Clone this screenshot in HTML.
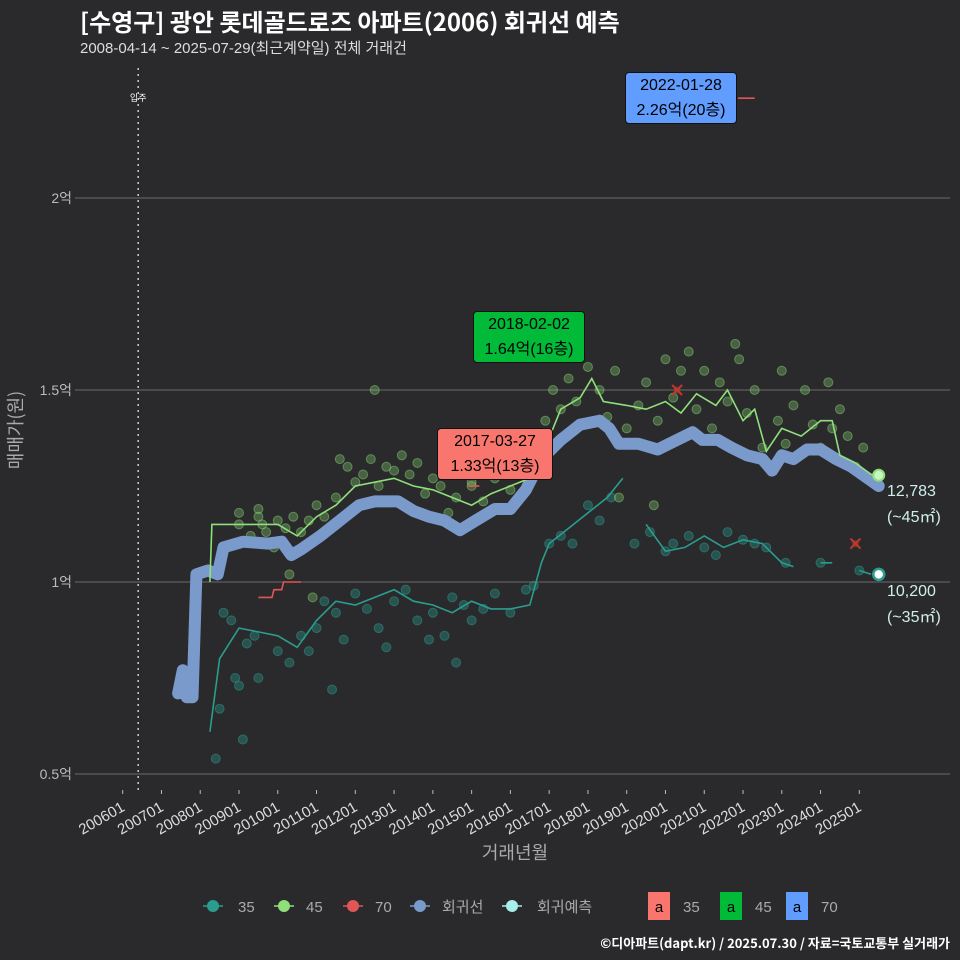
<!DOCTYPE html>
<html><head><meta charset="utf-8">
<style>
body{margin:0;background:#2a2a2c;}
#wrap{position:relative;width:960px;height:960px;background:#2a2a2c;font-family:"Liberation Sans","Noto Sans CJK KR",sans-serif;overflow:hidden}
.t{position:absolute;white-space:nowrap}
.ann{position:absolute;border-radius:4px;border:1px solid #111;color:#000;font-size:16px;line-height:25px;text-align:center;font-family:"Liberation Sans","Noto Sans CJK KR",sans-serif}
</style></head><body>
<div id="wrap">
<div class="t" style="left:80px;top:3px;font-size:24px;font-weight:bold;color:#fff;font-family:'Noto Sans CJK KR',sans-serif">[수영구] 광안 롯데골드로즈 아파트(2006) 회귀선 예측</div>
<div class="t" style="left:80px;top:37px;font-size:15px;color:#ddd;font-family:'Liberation Sans','Noto Sans CJK KR',sans-serif">2008-04-14 ~ 2025-07-29(최근계약일) 전체 거래건</div>
<svg id="svg" width="960" height="960" style="position:absolute;left:0;top:0"></svg>
<div class="ann" style="left:625px;top:72px;width:110px;background:#619cff">2022-01-28<br>2.26억(20층)</div>
<div class="ann" style="left:473px;top:311px;width:110px;background:#00ba38">2018-02-02<br>1.64억(16층)</div>
<div class="ann" style="left:437px;top:428px;width:114px;background:#f8766d">2017-03-27<br>1.33억(13층)</div>
<div class="t" style="left:887px;top:479px;font-size:16px;line-height:26px;color:#cfeee8">12,783<br>(~45㎡)</div>
<div class="t" style="left:887px;top:579px;font-size:16px;line-height:26px;color:#cfeee8">10,200<br>(~35㎡)</div>
<div class="t" style="right:10px;top:933px;font-size:13px;font-weight:bold;color:#fff;font-family:'Noto Sans CJK KR',sans-serif">©디아파트(dapt.kr) / 2025.07.30 / 자료=국토교통부 실거래가</div>
</div>
<script>
const yTicks=[0.5,1,1.5,2];
const yTickLabels=["0.5억","1억","1.5억","2억"];
const xTickYears=[2006,2007,2008,2009,2010,2011,2012,2013,2014,2015,2016,2017,2018,2019,2020,2021,2022,2023,2024,2025];
const xTickLabels=["200601","200701","200801","200901","201001","201101","201201","201301","201401","201501","201601","201701","201801","201901","202001","202101","202201","202301","202401","202501"];
const regYears=[2007.43,2007.55,2007.65,2007.8,2007.9,2008.2,2008.45,2008.6,2009.1,2009.75,2010.1,2010.35,2010.6,2011.1,2011.6,2012.1,2012.5,2013.1,2013.5,2013.9,2014.3,2014.7,2015.1,2015.6,2016.0,2016.4,2016.8,2017.3,2017.8,2018.3,2018.55,2018.8,2019.3,2019.8,2020.3,2020.7,2020.95,2021.35,2021.7,2022.1,2022.5,2022.75,2023.0,2023.3,2023.65,2024.0,2024.4,2024.8,2025.5];
const regValues=[0.71,0.77,0.70,0.70,1.02,1.03,1.02,1.09,1.105,1.10,1.105,1.07,1.085,1.12,1.16,1.20,1.21,1.21,1.185,1.17,1.16,1.135,1.16,1.19,1.19,1.24,1.32,1.37,1.41,1.42,1.40,1.36,1.36,1.345,1.37,1.39,1.37,1.37,1.35,1.33,1.32,1.29,1.33,1.32,1.345,1.345,1.32,1.30,1.25];
const s45Years=[2008.25,2008.3,2009.0,2010.0,2010.5,2011.0,2011.5,2012.0,2012.5,2013.0,2013.5,2014.0,2014.5,2015.0,2015.5,2016.0,2016.5,2016.9,2017.3,2017.8,2018.1,2018.4,2019.0,2019.5,2020.0,2020.4,2020.8,2021.3,2021.6,2022.0,2022.3,2022.6,2023.0,2023.5,2024.0,2024.3,2024.5,2024.9,2025.3,2025.55];
const s45Values=[1.0,1.15,1.15,1.15,1.12,1.17,1.20,1.25,1.26,1.27,1.25,1.24,1.22,1.20,1.23,1.25,1.27,1.35,1.45,1.48,1.53,1.47,1.46,1.45,1.47,1.44,1.49,1.46,1.50,1.42,1.45,1.34,1.40,1.38,1.42,1.42,1.33,1.31,1.28,1.28];
const s35Years=[2008.25,2008.5,2009.0,2009.5,2010.0,2010.5,2011.0,2011.5,2012.0,2012.5,2013.0,2013.5,2014.0,2014.5,2015.0,2015.5,2016.0,2016.5,2016.8,2017.0,2017.5,2018.0,2018.5,2018.9,null,2019.5,2020.0,2020.5,2021.0,2021.5,2022.0,2022.5,2023.0,2023.3,null,2024.0,2024.3,null,2025.0,2025.3];
const s35Values=[0.61,0.80,0.88,0.87,0.86,0.83,0.90,0.95,0.94,0.96,0.98,0.95,0.94,0.92,0.95,0.93,0.93,0.94,1.05,1.10,1.14,1.18,1.22,1.27,null,1.15,1.08,1.09,1.12,1.09,1.11,1.10,1.05,1.04,null,1.05,1.05,null,1.03,1.02];
const s70Years=[2009.5,2009.85,2009.9,2010.1,2010.15,2010.6];
const s70Values=[0.96,0.96,0.98,0.98,1.0,1.0];
const p45Years=[2009.0,2009.0,2009.5,2009.5,2009.6,2009.7,2009.3,2010.0,2010.2,2010.4,2010.6,2010.8,2011.0,2011.2,2011.5,2011.6,2011.8,2012.0,2012.2,2012.4,2012.6,2012.8,2013.0,2013.2,2013.4,2013.6,2013.8,2014.0,2014.2,2014.4,2014.6,2014.8,2015.0,2015.3,2015.6,2015.8,2016.0,2016.3,2016.6,2016.9,2017.1,2017.3,2017.5,2017.7,2018.0,2018.3,2018.5,2018.7,2019.0,2019.3,2019.5,2019.8,2020.0,2020.2,2020.4,2020.6,2020.8,2021.0,2021.2,2021.4,2021.6,2021.9,2022.1,2022.3,2022.5,2022.7,2022.9,2023.1,2023.3,2023.6,2023.8,2024.0,2024.2,2024.5,2024.7,2024.9,2025.1,2025.3,2012.5,2010.3,2010.9,2015.0,2009.9,2018.8,2019.7,2024.3,2023.0,2021.8];
const p45Values=[1.15,1.18,1.17,1.19,1.15,1.13,1.12,1.16,1.14,1.17,1.13,1.16,1.20,1.17,1.22,1.32,1.30,1.26,1.28,1.32,1.25,1.30,1.29,1.33,1.28,1.31,1.23,1.27,1.25,1.18,1.22,1.29,1.26,1.21,1.27,1.30,1.24,1.30,1.36,1.42,1.50,1.45,1.53,1.47,1.56,1.50,1.43,1.55,1.40,1.46,1.52,1.42,1.58,1.48,1.55,1.60,1.45,1.55,1.40,1.52,1.47,1.58,1.44,1.50,1.35,1.30,1.42,1.36,1.46,1.50,1.41,1.35,1.52,1.45,1.38,1.30,1.35,1.27,1.50,1.02,0.96,1.25,1.09,1.22,1.20,1.40,1.55,1.62];
const p35Years=[2008.6,2008.8,2009.2,2009.5,2009.4,2010.0,2010.3,2010.6,2011.0,2011.2,2011.5,2011.7,2012.0,2012.3,2012.6,2013.0,2013.3,2013.6,2014.0,2014.3,2014.5,2014.8,2015.0,2015.3,2015.6,2016.0,2016.4,2016.6,2017.0,2017.3,2017.6,2018.0,2018.3,2018.6,2019.2,2019.6,2020.0,2020.2,2020.6,2021.0,2021.3,2021.6,2022.0,2022.3,2022.6,2023.1,2024.0,2025.0,2008.4,2008.9,2009.1,2010.8,2011.4,2012.8,2014.6,2013.9,2008.5,2009.0];
const p35Values=[0.92,0.90,0.84,0.75,0.86,0.82,0.79,0.86,0.88,0.95,0.92,0.85,0.97,0.93,0.88,0.95,0.98,0.90,0.92,0.86,0.96,0.94,0.90,0.93,0.97,0.92,0.98,0.99,1.10,1.12,1.10,1.20,1.16,1.22,1.10,1.13,1.08,1.10,1.12,1.09,1.07,1.13,1.11,1.10,1.09,1.05,1.05,1.03,0.54,0.75,0.59,0.82,0.72,0.83,0.79,0.85,0.67,0.73];
const X=y=>122.7+(y-2006)*38.77;
const Y=v=>582-(v-1)*384;
const NS="http://www.w3.org/2000/svg";
const svg=document.getElementById('svg');
function mk(tag,attrs,parent){const e=document.createElementNS(NS,tag);for(const k in attrs)e.setAttribute(k,attrs[k]);(parent||svg).appendChild(e);return e;}
yTicks.forEach((v,i)=>{
 const l=mk('line',{x1:75,x2:950,y1:Y(v),y2:Y(v),stroke:'#6a6a6a','stroke-width':1});
 
 
 const t=mk('text',{x:72,y:Y(v)+5,'text-anchor':'end',fill:'#bbb','font-size':14,'font-family':'Liberation Sans, Noto Sans CJK KR, sans-serif'});
 t.textContent=yTickLabels[i];
 
 
});
xTickYears.forEach((yr,i)=>{
 const x=X(yr);
 const tk=mk('line',{x1:x,x2:x,y1:790,y2:794,stroke:'#bbb'});
 
 
 const t=mk('text',{x:x+3,y:810,'text-anchor':'end',fill:'#ddd','font-size':15,'font-family':'Liberation Sans, sans-serif',transform:`rotate(-30 ${x+3} 810)`});
 t.textContent=xTickLabels[i];
 
 
});
const mv=mk('line',{x1:X(2006.4),x2:X(2006.4),y1:68,y2:790,stroke:'#ccc','stroke-width':1.5,'stroke-dasharray':'2 4'});


const mvt=mk('text',{x:X(2006.4),y:101,'text-anchor':'middle',fill:'#fff','font-size':9,'font-family':'Noto Sans CJK KR, sans-serif'});
mvt.textContent='입주';


const xt=mk('text',{x:515,y:859,'text-anchor':'middle',fill:'#aaa','font-size':18,'font-family':'Noto Sans CJK KR, sans-serif'});
xt.textContent='거래년월';


const yt=mk('text',{x:22,y:430,'text-anchor':'middle',fill:'#aaa','font-size':18,'font-family':'Noto Sans CJK KR, sans-serif',transform:'rotate(-90 22 430)'});
yt.textContent='매매가(원)';


function pathOf(xs,vs){let d='',pen=false;xs.forEach((x,i)=>{if(x===null){pen=false;return;}d+=(pen?'L':'M')+X(x).toFixed(1)+' '+Y(vs[i]).toFixed(1)+' ';pen=true;});return d;}
p35Years.forEach((yr,i)=>{const c=mk('circle',{cx:X(yr),cy:Y(p35Values[i]),r:4.5,fill:'#2a9d8f','fill-opacity':0.35,stroke:'#2a9d8f','stroke-opacity':0.5});
 
 });
p45Years.forEach((yr,i)=>{const c=mk('circle',{cx:X(yr),cy:Y(p45Values[i]),r:4.5,fill:'#8fe07a','fill-opacity':0.3,stroke:'#8fe07a','stroke-opacity':0.45});
 
 });
const reg=mk('path',{d:pathOf(regYears,regValues),fill:'none',stroke:'#7b9acc','stroke-width':12,'stroke-linejoin':'round','stroke-linecap':'round'});


const l35=mk('path',{d:pathOf(s35Years,s35Values),fill:'none',stroke:'#2a9d8f','stroke-width':1.6});


const l45=mk('path',{d:pathOf(s45Years,s45Values),fill:'none',stroke:'#8fe07a','stroke-width':1.6});


const l70=mk('path',{d:pathOf(s70Years,s70Values),fill:'none',stroke:'#e05555','stroke-width':1.6});


const seg70=mk('line',{x1:X(2021.87),x2:X(2022.3),y1:Y(2.26),y2:Y(2.26),stroke:'#e05555','stroke-width':1.6});


const seg70b=mk('line',{x1:X(2014.9),x2:X(2015.2),y1:Y(1.25),y2:Y(1.25),stroke:'#e05555','stroke-width':1.6});


[[2020.3,1.5],[2024.9,1.10]].forEach(p=>{const g=mk('g',{stroke:'#c0392b','stroke-width':2});
 
 
 const x=X(p[0]),y=Y(p[1]);mk('line',{x1:x-5,y1:y-5,x2:x+5,y2:y+5},g);mk('line',{x1:x-5,y1:y+5,x2:x+5,y2:y-5},g);mk('circle',{cx:x,cy:y,r:3.5,fill:'#c0392b','fill-opacity':0.5,stroke:'none'},g);});
const e45=mk('circle',{cx:X(2025.5),cy:Y(1.278),r:5.5,fill:'#c9f5c0',stroke:'#8fe07a','stroke-width':2});


const e35=mk('circle',{cx:X(2025.5),cy:Y(1.02),r:5.5,fill:'#fff',stroke:'#2a9d8f','stroke-width':2.5});


// legend
const legItems=[[213,'#2a9d8f','35',238],[284,'#8fe07a','45',306],[353,'#e05555','70',375],[420,'#7b9acc','회귀선',442],[512,'#a8eeea','회귀예측',537]];
legItems.forEach(it=>{const g=mk('g',{});
 
 
 mk('line',{x1:it[0]-10,x2:it[0]+10,y1:906,y2:906,stroke:it[1],'stroke-width':1.5},g);
 mk('circle',{cx:it[0],cy:906,r:6,fill:it[1]},g);
 const t=mk('text',{x:it[3],y:912,fill:'#aaa','font-size':15,'font-family':'Liberation Sans, Noto Sans CJK KR, sans-serif'},g);t.textContent=it[2];});
[[648,'#f8766d','35'],[720,'#00ba38','45'],[786,'#619cff','70']].forEach(it=>{const g=mk('g',{});
 
 
 mk('rect',{x:it[0],y:892,width:22,height:28,fill:it[1]},g);
 const a=mk('text',{x:it[0]+11,y:912,'text-anchor':'middle',fill:'#000','font-size':15,'font-family':'Liberation Sans, sans-serif'},g);a.textContent='a';
 const t=mk('text',{x:it[0]+35,y:912,fill:'#aaa','font-size':15,'font-family':'Liberation Sans, sans-serif'},g);t.textContent=it[2];});
</script>
</body></html>
